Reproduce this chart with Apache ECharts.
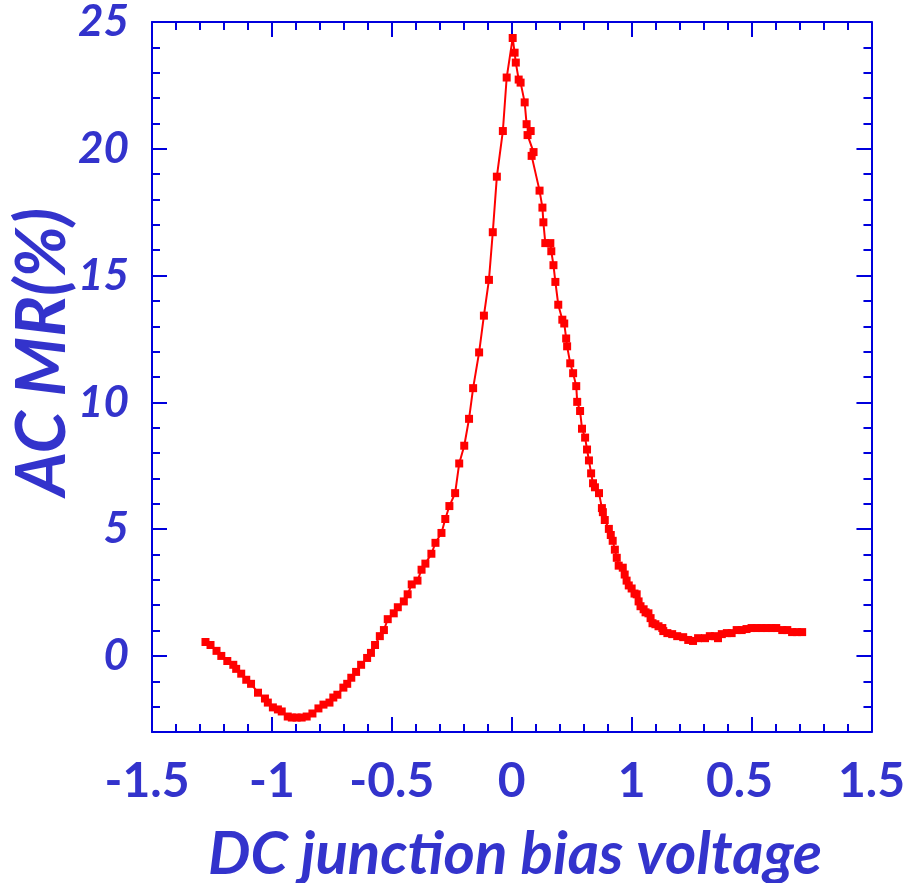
<!DOCTYPE html>
<html>
<head>
<meta charset="utf-8">
<script src="https://cdn.jsdelivr.net/npm/echarts@6/dist/echarts.min.js"></script>
<style>
  html, body { margin: 0; padding: 0; background: #fff; }
  #chart { width: 908px; height: 883px; }
</style>
</head>
<body>
<div id="chart"></div>
<script>
// DC junction bias (V) and AC magnetoresistance (%) measured along the sweep
const biasV = [
  -1.277, -1.256, -1.231, -1.211, -1.186, -1.161, -1.149, -1.128, -1.107, -1.087,
  -1.058, -1.029, -1.017, -0.996, -0.975, -0.959, -0.934, -0.917, -0.897, -0.876,
  -0.855, -0.831, -0.806, -0.785, -0.760, -0.744, -0.727, -0.702, -0.686, -0.669,
  -0.649, -0.628, -0.603, -0.587, -0.570, -0.550, -0.533, -0.517, -0.492, -0.475,
  -0.450, -0.434, -0.417, -0.393, -0.376, -0.360, -0.335, -0.318, -0.293, -0.277,
  -0.260, -0.236, -0.219, -0.198, -0.178, -0.161, -0.136, -0.116, -0.095, -0.079,
  -0.062, -0.037, -0.021, 0.004, 0.012, 0.017, 0.029, 0.037, 0.054, 0.062,
  0.079, 0.066, 0.091, 0.083, 0.116, 0.128, 0.132, 0.140, 0.161, 0.165,
  0.174, 0.182, 0.194, 0.211, 0.219, 0.227, 0.231, 0.244, 0.256, 0.269,
  0.273, 0.285, 0.293, 0.306, 0.314, 0.322, 0.331, 0.339, 0.347, 0.364,
  0.376, 0.380, 0.388, 0.405, 0.413, 0.421, 0.430, 0.438, 0.446, 0.463,
  0.471, 0.479, 0.488, 0.500, 0.512, 0.521, 0.529, 0.537, 0.550, 0.558,
  0.570, 0.579, 0.587, 0.599, 0.612, 0.628, 0.632, 0.649, 0.669, 0.690,
  0.715, 0.736, 0.756, 0.777, 0.806, 0.826, 0.847, 0.860, 0.876, 0.897,
  0.917, 0.938, 0.959, 0.979, 1.000, 1.021, 1.041, 1.062, 1.083, 1.103,
  1.128, 1.149, 1.169, 1.190, 1.211
];
const acMR = [
  0.55, 0.43, 0.20, 0.00, -0.20, -0.35, -0.51, -0.70, -0.94, -1.10,
  -1.45, -1.68, -1.84, -2.03, -2.11, -2.19, -2.39, -2.43, -2.43, -2.43,
  -2.39, -2.27, -2.07, -1.92, -1.84, -1.64, -1.53, -1.25, -1.10, -0.86,
  -0.63, -0.35, -0.08, 0.12, 0.43, 0.78, 1.02, 1.45, 1.68, 1.92,
  2.15, 2.43, 2.82, 2.97, 3.40, 3.64, 4.03, 4.46, 4.85, 5.40,
  5.91, 6.42, 7.59, 8.29, 9.35, 10.56, 11.97, 13.42, 14.83, 16.71,
  18.90, 20.70, 22.81, 24.37, 23.79, 23.40, 22.73, 22.61, 21.83, 20.97,
  20.70, 20.54, 19.87, 19.72, 18.35, 17.68, 17.10, 16.28, 16.28, 15.96,
  15.41, 14.75, 13.85, 13.26, 13.11, 12.52, 12.21, 11.54, 11.15, 10.64,
  10.02, 9.66, 8.96, 8.61, 8.14, 7.71, 7.20, 6.81, 6.65, 6.42,
  5.83, 5.67, 5.36, 5.01, 4.77, 4.54, 4.19, 3.87, 3.56, 3.48,
  3.21, 2.97, 2.78, 2.66, 2.46, 2.43, 2.15, 1.96, 1.84, 1.72,
  1.68, 1.49, 1.29, 1.25, 1.17, 1.10, 0.98, 0.90, 0.86, 0.78,
  0.74, 0.63, 0.59, 0.70, 0.70, 0.78, 0.78, 0.70, 0.86, 0.90,
  0.90, 1.02, 1.02, 1.06, 1.10, 1.10, 1.10, 1.10, 1.10, 1.10,
  1.02, 1.02, 0.94, 0.94, 0.94
];

// Tick values and the labels printed under them
const xTickValues = [-1.5, -1, -0.5, 0, 0.5, 1, 1.5];
const xTickLabels = ['-1.5', '-1', '-0.5', '0', '1', '0.5', '1.5'];
const yTickValues = [0, 5, 10, 15, 20, 25];
const yTickLabels = ['0', '5', '10', '15', '20', '25'];

const xTitle = 'DC junction bias voltage';
const yTitle = 'AC MR(%)';

const AXIS_BLUE = '#0000dd';
const TEXT_BLUE = '#3333cc';
const FONT = 'Lato, "DejaVu Sans", sans-serif';
const X_LABEL_SIZE = 48;

const points = biasV.map((v, i) => [v, acMR[i]]);

function xLabel(value) {
  const i = xTickValues.findIndex(t => Math.abs(t - value) < 1e-6);
  if (i < 0) return '';
  const s = xTickLabels[i];
  if (i === 0) return '{l|' + s + '}';
  if (i === 5) return '{m|' + s + '}';
  return s;
}
function yLabel(value) {
  const i = yTickValues.findIndex(t => Math.abs(t - value) < 1e-6);
  return i < 0 ? '' : yTickLabels[i];
}

const lineStyle = { color: AXIS_BLUE, width: 2 };
const xRichBase = { color: TEXT_BLUE, fontFamily: FONT, fontWeight: 'bold', fontSize: X_LABEL_SIZE };

const chart = echarts.init(document.getElementById('chart'), null, { renderer: 'canvas' });
chart.setOption({
  animation: false,
  backgroundColor: '#ffffff',
  grid: { left: 152, right: 31, top: 16, bottom: 151, containLabel: false },
  xAxis: [
    {
      type: 'value', position: 'bottom', min: -1.5, max: 1.5, interval: 0.5,
      axisLine: { show: true, onZero: false, lineStyle },
      axisTick: { show: true, inside: true, length: 15, lineStyle },
      minorTick: { show: true, splitNumber: 5, length: 8, lineStyle },
      splitLine: { show: false },
      axisLabel: {
        show: true, margin: 26, color: TEXT_BLUE, fontFamily: FONT,
        fontWeight: 'bold', fontSize: X_LABEL_SIZE, formatter: xLabel,
        rich: {
          l: Object.assign({}, xRichBase, { padding: [0, 10, 0, 0] }),
          m: Object.assign({}, xRichBase, { padding: [0, 24, 0, 0] })
        }
      }
    },
    {
      type: 'value', position: 'top', min: -1.5, max: 1.5, interval: 0.5,
      axisLine: { show: true, onZero: false, lineStyle },
      axisTick: { show: true, inside: true, length: 15, lineStyle },
      minorTick: { show: true, splitNumber: 5, length: 8, lineStyle },
      splitLine: { show: false },
      axisLabel: { show: false }
    }
  ],
  yAxis: [
    {
      type: 'value', position: 'left', min: -3, max: 25, interval: 1,
      axisLine: { show: true, onZero: false, lineStyle },
      axisTick: { show: true, inside: true, length: 15, lineStyle, customValues: yTickValues },
      splitLine: { show: false },
      axisLabel: {
        show: true, margin: 23, color: TEXT_BLUE, fontFamily: FONT,
        fontWeight: 'bold', fontStyle: 'italic', fontSize: 44,
        customValues: yTickValues, formatter: yLabel
      }
    },
    {
      type: 'value', position: 'left', min: -3, max: 25, interval: 1,
      axisLine: { show: false, onZero: false },
      axisTick: { show: true, inside: true, length: 8, lineStyle },
      splitLine: { show: false },
      axisLabel: { show: false }
    },
    {
      type: 'value', position: 'right', min: -3, max: 25, interval: 1,
      axisLine: { show: true, onZero: false, lineStyle },
      axisTick: { show: true, inside: true, length: 15, lineStyle, customValues: yTickValues },
      splitLine: { show: false },
      axisLabel: { show: false }
    },
    {
      type: 'value', position: 'right', min: -3, max: 25, interval: 1,
      axisLine: { show: false, onZero: false },
      axisTick: { show: true, inside: true, length: 8, lineStyle },
      splitLine: { show: false },
      axisLabel: { show: false }
    }
  ],
  series: [
    {
      type: 'line',
      xAxisIndex: 0,
      yAxisIndex: 0,
      data: points,
      symbol: 'rect',
      symbolSize: 8,
      showSymbol: true,
      smooth: false,
      lineStyle: { color: '#ff0000', width: 2 },
      itemStyle: { color: '#ff0000' },
      emphasis: { disabled: true },
      z: 3
    }
  ],
  graphic: [
    {
      type: 'text',
      x: 515, y: 855,
      style: {
        text: xTitle, fill: TEXT_BLUE, fontFamily: FONT,
        fontWeight: 'bold', fontStyle: 'italic', fontSize: 60,
        align: 'center', verticalAlign: 'middle'
      }
    },
    {
      type: 'text',
      x: 43, y: 352,
      rotation: Math.PI / 2,
      style: {
        text: yTitle, fill: TEXT_BLUE, fontFamily: FONT,
        fontWeight: 'bold', fontStyle: 'italic', fontSize: 68,
        align: 'center', verticalAlign: 'middle'
      }
    }
  ]
});
</script>
</body>
</html>
